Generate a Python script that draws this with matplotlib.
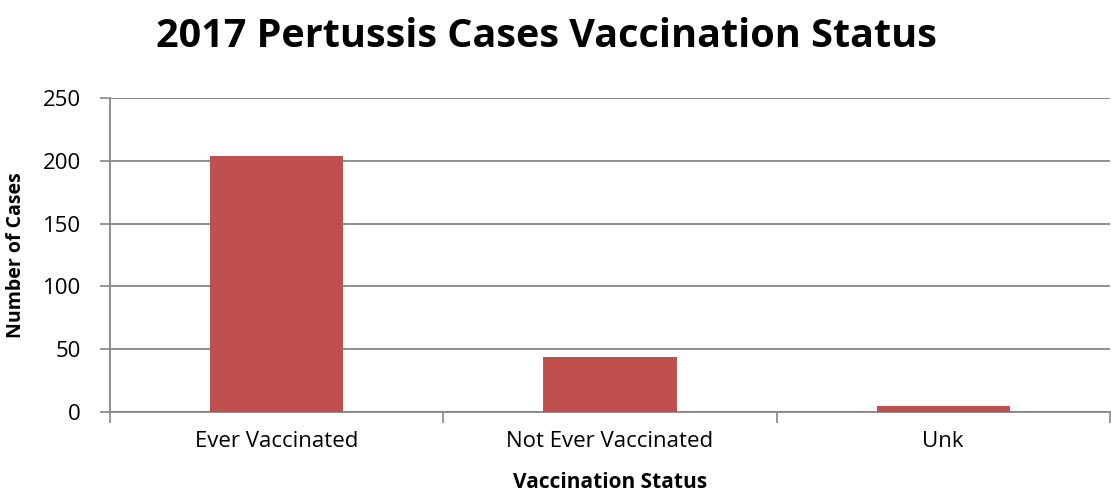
import matplotlib.pyplot as plt
import numpy as np

categories = ['Ever Vaccinated', 'Not Ever Vaccinated', 'Unk']
cases = [204, 44, 5]

plt.rcParams['font.family'] = ['Open Sans', 'DejaVu Sans']

fig = plt.figure(figsize=(11.11, 4.98), dpi=100)
ax = fig.add_axes([0.099, 0.173, 0.9, 0.63])

x = np.arange(len(categories))
ax.bar(x, cases, width=0.4, color='#C0504D', zorder=3)

ax.set_xlim(-0.5, len(categories) - 0.5)
ax.set_ylim(0, 250)
ax.set_yticks(range(0, 251, 50))
ax.set_xticks(x)
ax.set_xticklabels(categories, fontsize=16)
ax.tick_params(axis='x', length=0, pad=14)
ax.tick_params(axis='y', labelsize=16, length=7, color='#868686', width=1.2, pad=14)

# category boundary ticks
ax.set_xticks(np.arange(-0.5, len(categories), 1), minor=True)
ax.tick_params(axis='x', which='minor', length=8, color='#868686', width=1.2)

ax.grid(axis='y', color='#868686', linewidth=1.3, zorder=0)
for s in ['top', 'right']:
    ax.spines[s].set_visible(False)
ax.spines['left'].set_color('#868686')
ax.spines['left'].set_linewidth(1.3)
ax.spines['bottom'].set_color('#868686')
ax.spines['bottom'].set_linewidth(1.3)

ax.set_ylabel('Number of Cases', fontsize=14, fontweight='bold', labelpad=12)
ax.set_xlabel('Vaccination Status', fontsize=15, fontweight='bold', labelpad=14)
fig.suptitle('2017 Pertussis Cases Vaccination Status', fontsize=28.5, fontweight='bold',
             x=0.492, y=0.965)

fig.savefig('out.png', dpi=100)
